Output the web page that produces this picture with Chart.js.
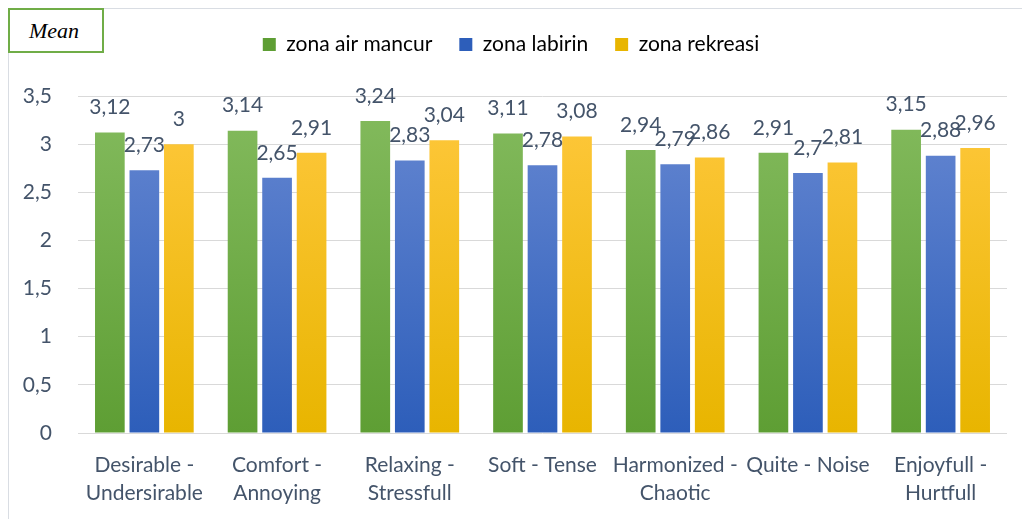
<!DOCTYPE html>
<html>
<head>
<meta charset="utf-8">
<script src="https://cdn.jsdelivr.net/npm/chart.js@4.4.1/dist/chart.umd.min.js"></script>
<style>
  body { margin: 0; background: #fff; }
  #wrap { position: relative; width: 1022px; height: 519px; overflow: hidden; }
  #frame { position: absolute; left: 8px; top: 8px; width: 1030px; height: 520px;
           border-left: 1px solid #d9dde3; border-top: 1px solid #d9dde3; }
  #mean { position: absolute; left: 8px; top: 8px; height: 41px;
          border: 2px solid #70ad47; background: #fff;
          font: italic 22px "Liberation Serif", serif; color: #000;
          line-height: 41px; padding-left: 19px; width: 73px; }
  canvas { position: absolute; left: 0; top: 0; }
</style>
</head>
<body>
<div id="wrap">
  <div id="frame"></div>
  <canvas id="myChart" width="1022" height="519"></canvas>
  <div id="mean">Mean</div>
</div>
<script>
var categories = [
    ["Desirable -", "Undersirable"],
    ["Comfort -", "Annoying"],
    ["Relaxing -", "Stressfull"],
    "Soft - Tense",
    ["Harmonized -", "Chaotic"],
    "Quite - Noise",
    ["Enjoyfull -", "Hurtfull"]
];
var seriesNames = ["zona air mancur", "zona labirin", "zona rekreasi"];
var airMancur = [3.12, 3.14, 3.24, 3.11, 2.94, 2.91, 3.15];
var labirin = [2.73, 2.65, 2.83, 2.78, 2.79, 2.7, 2.88];
var rekreasi = [3, 2.91, 3.04, 3.08, 2.86, 2.81, 2.96];

var textColor = "#44546a";
var fontName = "Lato, 'Liberation Sans', sans-serif";
// top / bottom colour of each bar gradient
var barColors = [
    ["#84bb5e", "#5e9e34"],
    ["#6788d2", "#2d5eba"],
    ["#ffc83e", "#e8b500"]
];

function gradientFor(i) {
    return function (context) {
        var chart = context.chart;
        var area = chart.chartArea;
        if (!area) return barColors[i][1];
        var g = chart.ctx.createLinearGradient(0, area.top, 0, area.bottom);
        g.addColorStop(0, barColors[i][0]);
        g.addColorStop(1, barColors[i][1]);
        return g;
    };
}

function fmt(v) {
    return String(v).replace(".", ",");
}

// value labels above each bar
var valueLabels = {
    id: "valueLabels",
    beforeInit: function (chart) {
        // leave more room under the legend
        var legend = chart.legend;
        if (!legend) return;
        var fit = legend.fit;
        legend.fit = function () {
            fit.call(this);
            this.height += 31;
        };
    },
    afterDatasetsDraw: function (chart) {
        var ctx = chart.ctx;
        ctx.save();
        ctx.font = "21px " + fontName;
        ctx.fillStyle = textColor;
        ctx.textAlign = "center";
        ctx.textBaseline = "middle";
        chart.data.datasets.forEach(function (ds, i) {
            chart.getDatasetMeta(i).data.forEach(function (bar, j) {
                ctx.fillText(fmt(ds.data[j]), bar.x, bar.y - 25);
            });
        });
        ctx.restore();
    }
};

var allSeries = [airMancur, labirin, rekreasi];

new Chart("myChart", {
    type: "bar",
    data: {
        labels: categories,
        datasets: allSeries.map(function (vals, i) {
            return {
                label: seriesNames[i],
                data: vals,
                backgroundColor: gradientFor(i),
                categoryPercentage: 0.78,
                barPercentage: 0.86
            };
        })
    },
    plugins: [valueLabels],
    options: {
        responsive: false,
        animation: false,
        layout: { padding: { top: 7, right: 15, left: 15, bottom: 0 } },
        plugins: {
            tooltip: { enabled: false },
            legend: {
                position: "top",
                labels: {
                    boxWidth: 13,
                    boxHeight: 13,
                    padding: 27,
                    color: textColor,
                    font: { family: fontName, size: 21 },
                    generateLabels: function (chart) {
                        return seriesNames.map(function (n, i) {
                            return {
                                text: n,
                                fillStyle: barColors[i][1],
                                strokeStyle: barColors[i][1],
                                lineWidth: 0,
                                datasetIndex: i
                            };
                        });
                    }
                }
            }
        },
        scales: {
            x: {
                afterFit: function (scale) { scale.height = 86; },
                grid: { display: false },
                border: { display: false },
                ticks: {
                    color: textColor,
                    font: { family: fontName, size: 21, lineHeight: 1.35 },
                    maxRotation: 0,
                    padding: 10
                }
            },
            y: {
                min: 0,
                max: 3.5,
                afterFit: function (scale) { scale.width = 63; },
                border: { display: false },
                grid: { color: "#d9d9d9", lineWidth: 1, drawTicks: false },
                ticks: {
                    stepSize: 0.5,
                    padding: 26,
                    color: textColor,
                    font: { family: fontName, size: 21 },
                    callback: function (v) { return fmt(v); }
                }
            }
        }
    }
});
</script>
</body>
</html>
